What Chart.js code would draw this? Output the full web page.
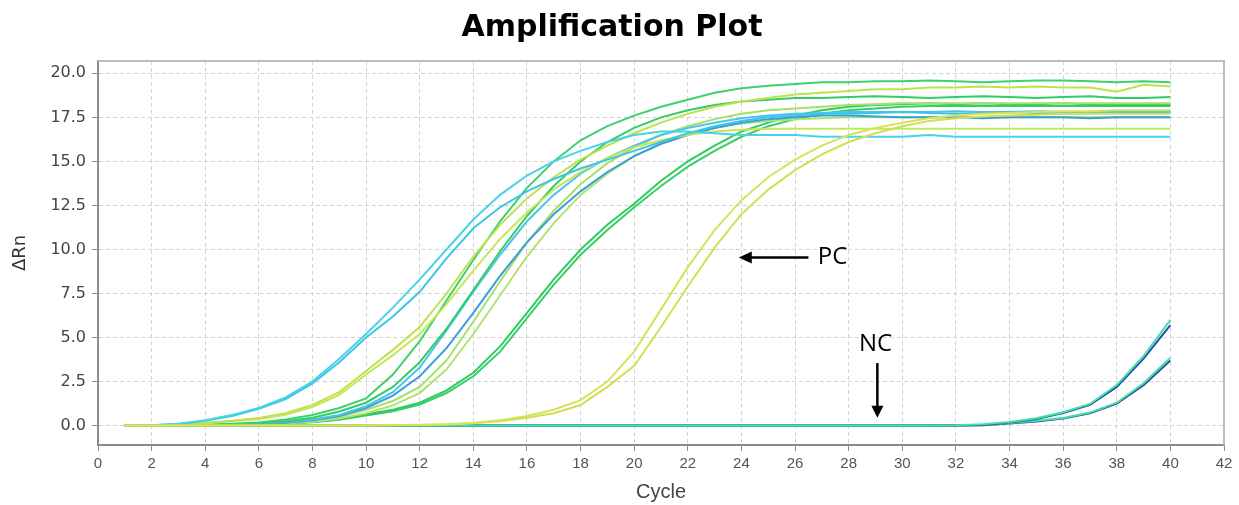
<!DOCTYPE html>
<html>
<head>
<meta charset="utf-8">
<title>Amplification Plot</title>
<script src="https://cdn.jsdelivr.net/npm/chart.js@4/dist/chart.umd.min.js"></script>
<style>
  body { margin: 0; background: #fff; }
  canvas { display: block; }
</style>
</head>
<body>
<canvas id="ampChart" width="1239" height="505"></canvas>
<script>
// cycles and delta Rn per well
var cycles = [1,2,3,4,5,6,7,8,9,10,11,12,13,14,15,16,17,18,19,20,21,22,23,24,25,26,27,28,29,30,31,32,33,34,35,36,37,38,39,40];
var xTicks = [0,2,4,6,8,10,12,14,16,18,20,22,24,26,28,30,32,34,36,38,40,42];
var yTicks = [0, 2.5, 5, 7.5, 10, 12.5, 15, 17.5, 20];

// positive control (yellow)
var pc1 = [0,0,0,0,0,0,0,0,0.01,0.02, 0.03,0.05,0.08,0.15,0.3,0.55,0.9,1.45,2.5,4.2, 6.6,9.0,11.1,12.8,14.1,15.1,15.9,16.5,16.9,17.2, 17.45,17.6,17.7,17.75,17.8,17.85,17.85,17.9,17.9,17.9];
var pc2 = [0,0,0,0,0,0,0,0,0.01,0.01, 0.02,0.04,0.07,0.13,0.25,0.45,0.7,1.17,2.2,3.4, 5.6,7.9,10.1,12.0,13.4,14.5,15.4,16.1,16.6,17.0, 17.3,17.45,17.55,17.6,17.65,17.7,17.7,17.7,17.7,17.7];

// samples
var cyan1 = [0,0.02,0.1,0.3,0.6,1.0,1.6,2.5,3.8,5.2, 6.7,8.3,10.0,11.7,13.1,14.2,15.0,15.6,16.1,16.5, 16.7,16.7,16.6,16.5,16.5,16.5,16.4,16.4,16.4,16.4, 16.5,16.4,16.4,16.4,16.4,16.4,16.4,16.4,16.4,16.4];
var cyan2 = [0,0.02,0.09,0.28,0.55,0.95,1.5,2.4,3.6,5.0, 6.2,7.6,9.5,11.2,12.4,13.3,14.0,14.6,15.1,15.6, 16.1,16.6,17.0,17.3,17.5,17.6,17.7,17.7,17.75,17.8, 17.75,17.7,17.75,17.8,17.75,17.7,17.75,17.8,17.8,17.8];
var yg1 = [0,0.01,0.05,0.17,0.28,0.43,0.7,1.17,1.9,3.1, 4.3,5.6,7.5,9.6,11.4,12.9,14.1,15.1,15.9,16.6, 17.2,17.7,18.1,18.4,18.6,18.8,18.9,19.0,19.1,19.1, 19.2,19.2,19.25,19.2,19.25,19.2,19.2,18.95,19.35,19.25];
var yg2 = [0,0.01,0.04,0.14,0.25,0.38,0.62,1.05,1.75,2.9, 4.0,5.2,6.9,8.8,10.6,12.1,13.4,14.4,15.2,15.8, 16.2,16.5,16.7,16.8,16.85,16.85,16.85,16.85,16.85,16.85, 16.85,16.85,16.85,16.85,16.85,16.85,16.85,16.85,16.85,16.85];
var green1 = [0,0.01,0.03,0.06,0.1,0.18,0.35,0.6,1.0,1.55, 2.9,4.8,7.1,9.4,11.6,13.5,15.0,16.2,17.0,17.6, 18.1,18.5,18.9,19.15,19.3,19.4,19.5,19.5,19.55,19.55, 19.6,19.55,19.5,19.55,19.6,19.6,19.55,19.5,19.55,19.5];
var green2 = [0,0.01,0.02,0.05,0.08,0.14,0.25,0.45,0.8,1.3, 2.2,3.6,5.5,7.7,9.9,11.9,13.6,15.0,16.1,16.9, 17.5,17.9,18.2,18.4,18.5,18.6,18.6,18.65,18.7,18.65, 18.6,18.65,18.7,18.65,18.6,18.65,18.7,18.6,18.6,18.65];
var skyBlue = [0,0.01,0.02,0.04,0.07,0.12,0.2,0.35,0.6,1.1, 1.9,3.3,5.4,7.6,9.7,11.6,13.1,14.3,15.2,15.9, 16.5,16.9,17.2,17.45,17.6,17.7,17.75,17.8,17.8,17.8, 17.8,17.85,17.8,17.8,17.85,17.8,17.8,17.8,17.8,17.8];
var blue = [0,0.01,0.02,0.03,0.06,0.1,0.17,0.3,0.55,1.0, 1.7,2.8,4.4,6.4,8.5,10.4,12.0,13.3,14.4,15.3, 16.0,16.5,16.9,17.2,17.4,17.5,17.6,17.6,17.55,17.5, 17.5,17.5,17.45,17.5,17.5,17.5,17.45,17.5,17.5,17.5];
var lime1 = [0,0.01,0.02,0.03,0.05,0.09,0.15,0.28,0.5,0.9, 1.4,2.2,3.7,5.9,8.2,10.4,12.2,13.7,14.9,15.8, 16.5,17.0,17.4,17.7,17.9,18.0,18.1,18.2,18.25,18.3, 18.3,18.3,18.3,18.3,18.3,18.3,18.3,18.3,18.3,18.3];
var lime2 = [0,0.01,0.02,0.03,0.04,0.07,0.12,0.22,0.4,0.7, 1.15,1.85,3.2,5.2,7.4,9.6,11.5,13.1,14.3,15.3, 16.0,16.5,16.9,17.15,17.3,17.4,17.45,17.5,17.5,17.5, 17.5,17.5,17.5,17.5,17.5,17.5,17.5,17.5,17.5,17.5];
var darkGreen1 = [0,0.01,0.02,0.03,0.05,0.08,0.13,0.22,0.38,0.65, 0.9,1.3,2.0,3.0,4.5,6.4,8.3,10.0,11.4,12.6, 13.9,15.0,15.9,16.7,17.2,17.6,17.9,18.1,18.2,18.25, 18.3,18.25,18.3,18.25,18.25,18.3,18.25,18.2,18.25,18.25];
var darkGreen2 = [0,0.01,0.02,0.03,0.04,0.07,0.11,0.19,0.33,0.58, 0.82,1.2,1.85,2.8,4.2,6.1,8.0,9.7,11.1,12.4, 13.6,14.7,15.6,16.4,17.0,17.4,17.7,17.9,18.0,18.1, 18.15,18.15,18.15,18.15,18.15,18.15,18.15,18.15,18.15,18.15];

// negative controls
var nc1 = [0,0,0,0,0,0,0,0,0,0, 0,0,0,0,0,0,0,0,0,0, 0,0,0,0,0,0,0,0,0,0, 0,0.02,0.08,0.2,0.42,0.76,1.23,2.3,3.95,6.0];
var nc2 = [0,0,0,0,0,0,0,0,0,0, 0,0,0,0,0,0,0,0,0,0, 0,0,0,0,0,0,0,0,0,0, 0,0.01,0.04,0.17,0.38,0.72,1.18,2.2,3.8,5.7];
var nc3 = [0,0,0,0,0,0,0,0,0,0, 0,0,0,0,0,0,0,0,0,0, 0,0,0,0,0,0,0,0,0,0, 0,0,0.03,0.15,0.27,0.43,0.74,1.3,2.4,3.85];
var nc4 = [0,0,0,0,0,0,0,0,0,0, 0,0,0,0,0,0,0,0,0,0, 0,0,0,0,0,0,0,0,0,0, 0,0,0.02,0.12,0.24,0.41,0.7,1.25,2.3,3.7];

// first in the list is drawn on top
var wells = [pc1, pc2, cyan1, cyan2, yg1, yg2, green1, green2, skyBlue, blue, lime1, lime2, darkGreen1, darkGreen2, nc1, nc2, nc3, nc4];
var wellColors = ['#d6e25a', '#d2df55', '#46d3e6', '#3cc6e4', '#bde24e', '#c6e655', '#3dd16e', '#34cc64',
                  '#4cc4ec', '#3a9edc', '#a6e06a', '#b0e272', '#2ecb5e', '#36cf66', '#3fe3a2', '#2e46b0', '#44e0a0', '#3048b4'];

// arrows and labels, in data units
var pcLabel = { text: 'PC', x: 26.85, y: 9.55, arrowFrom: 26.5, arrowTo: 23.9 };
var ncLabel = { text: 'NC', x: 29.0, y: 4.65, arrowFrom: 3.55, arrowTo: 0.44 };

var datasets = wells.map(function(values, i) {
    return {
        data: cycles.map(function(c, j) { return { x: c, y: values[j] }; }),
        borderColor: wellColors[i],
        borderWidth: 2,
        pointRadius: 0,
        tension: 0,
        fill: false
    };
});

var plotFrame = {
    id: 'plotFrame',
    afterDraw: function(chart) {
        var ctx = chart.ctx;
        var a = chart.chartArea;
        var xs = chart.scales.x;
        var ys = chart.scales.y;
        ctx.save();
        ctx.strokeStyle = '#bcbcbc';
        ctx.lineWidth = 2;
        ctx.beginPath();
        ctx.moveTo(a.left, a.top);
        ctx.lineTo(a.right, a.top);
        ctx.lineTo(a.right, a.bottom);
        ctx.stroke();

        ctx.strokeStyle = '#000';
        ctx.fillStyle = '#000';
        ctx.lineWidth = 2.5;

        // PC arrow pointing left
        var py = ys.getPixelForValue(pcLabel.y);
        var x1 = xs.getPixelForValue(pcLabel.arrowFrom);
        var x2 = xs.getPixelForValue(pcLabel.arrowTo);
        ctx.beginPath();
        ctx.moveTo(x1, py);
        ctx.lineTo(x2 + 10, py);
        ctx.stroke();
        ctx.beginPath();
        ctx.moveTo(x2, py);
        ctx.lineTo(x2 + 13, py - 6);
        ctx.lineTo(x2 + 13, py + 6);
        ctx.closePath();
        ctx.fill();

        // NC arrow pointing down
        var nx = xs.getPixelForValue(ncLabel.x + 0.07);
        var y1 = ys.getPixelForValue(ncLabel.arrowFrom);
        var y2 = ys.getPixelForValue(ncLabel.arrowTo);
        ctx.beginPath();
        ctx.moveTo(nx, y1);
        ctx.lineTo(nx, y2 - 10);
        ctx.stroke();
        ctx.beginPath();
        ctx.moveTo(nx, y2);
        ctx.lineTo(nx - 6, y2 - 12);
        ctx.lineTo(nx + 6, y2 - 12);
        ctx.closePath();
        ctx.fill();

        ctx.font = '24px "Open Sans"';
        ctx.textBaseline = 'middle';
        ctx.textAlign = 'left';
        ctx.fillText(pcLabel.text, xs.getPixelForValue(pcLabel.x), ys.getPixelForValue(pcLabel.y));
        ctx.textAlign = 'center';
        ctx.fillText(ncLabel.text, xs.getPixelForValue(ncLabel.x), ys.getPixelForValue(ncLabel.y));
        ctx.restore();
    }
};

var context = document.getElementById('ampChart').getContext('2d');
var ampChart = new Chart(context, {
    type: 'line',
    data: { datasets: datasets },
    plugins: [plotFrame],
    options: {
        responsive: false,
        animation: false,
        layout: { padding: { left: 0, right: 15, top: 0, bottom: 0 } },
        plugins: {
            legend: { display: false },
            tooltip: { enabled: false },
            title: {
                display: true,
                text: 'Amplification Plot',
                color: '#000',
                font: { family: 'DejaVu Sans', size: 30, weight: 'bold' },
                padding: { top: 10, bottom: 15 }
            }
        },
        scales: {
            x: {
                type: 'linear',
                min: 0,
                max: 42,
                afterBuildTicks: function(scale) {
                    scale.ticks = xTicks.map(function(v) { return { value: v }; });
                },
                afterFit: function(scale) { scale.height = 60; },
                ticks: {
                    autoSkip: false,
                    maxRotation: 0,
                    padding: 4,
                    color: '#555',
                    font: { family: 'Liberation Sans', size: 15 }
                },
                grid: { color: '#d2d2d2', tickColor: '#909090', tickLength: 6, tickBorderDash: [] },
                border: { color: '#8c8c8c', width: 2, dash: [4, 3] },
                title: {
                    display: true,
                    text: 'Cycle',
                    color: '#444',
                    font: { family: 'Liberation Sans', size: 20 },
                    padding: { top: 0, bottom: 1 }
                }
            },
            y: {
                min: -1.1,
                max: 20.7,
                afterBuildTicks: function(scale) {
                    scale.ticks = yTicks.map(function(v) { return { value: v }; });
                },
                afterFit: function(scale) { scale.width = 98; },
                ticks: {
                    padding: 6,
                    color: '#444',
                    font: { family: 'DejaVu Sans', size: 16 },
                    callback: function(v) { return Number(v).toFixed(1); }
                },
                grid: { color: '#d2d2d2', tickColor: '#909090', tickLength: 6, tickBorderDash: [] },
                border: { color: '#8c8c8c', width: 2, dash: [4, 3] },
                title: {
                    display: true,
                    text: '\u0394Rn',
                    color: '#333',
                    font: { family: 'DejaVu Sans', size: 18 },
                    padding: { top: 10, bottom: 0 }
                }
            }
        }
    }
});
</script>
</body>
</html>
